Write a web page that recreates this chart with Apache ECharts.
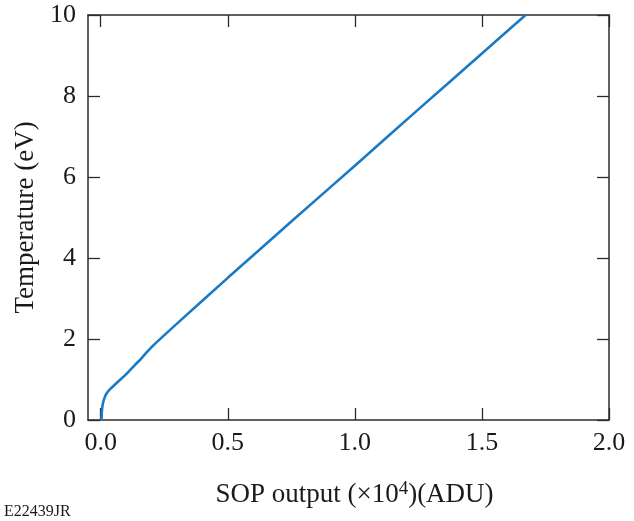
<!DOCTYPE html>
<html>
<head>
<meta charset="utf-8">
<script src="https://cdn.jsdelivr.net/npm/echarts@6/dist/echarts.min.js"></script>
<style>
	html, body { margin: 0; padding: 0; background: #fff; }
	#chart { width: 634px; height: 521px; }
</style>
</head>
<body>
<div id="chart"></div>
<script>
	// SOP output (x10^4 ADU) vs temperature (eV)
	var sopOutput = [0.003, 0.005, 0.009, 0.017, 0.027, 0.037, 0.05, 0.069, 0.09, 0.109, 0.135, 0.161, 0.2, 0.3, 0.5, 0.75, 1.0, 1.25, 1.5, 1.672];
	var temperature = [0.0, 0.25, 0.42, 0.58, 0.69, 0.76, 0.84, 0.95, 1.07, 1.19, 1.36, 1.53, 1.8, 2.38, 3.51, 4.9, 6.28, 7.67, 9.05, 10.0];
	var xTicks = [0.0, 0.5, 1.0, 1.5, 2.0];
	var yTicks = [0, 2, 4, 6, 8, 10];

	var points = sopOutput.map(function(x, i) {
		return [x, temperature[i]];
	});

	var myChart = echarts.init(document.getElementById('chart'));
	var serif = 'Liberation Serif';
	var axisColor = '#2b2b2b';
	var textColor = '#1a1a1a';

	var frameLine = { show: true, onZero: false, lineStyle: { color: axisColor, width: 1.5 } };
	var tickStyle = {
		show: true,
		inside: true,
		length: 12,
		lineStyle: { color: axisColor, width: 1.3 }
	};

	var option = {
		animation: false,
		backgroundColor: '#fff',
		grid: { left: 88, right: 25, top: 15, bottom: 101, outerBoundsMode: 'none', containLabel: false },
		xAxis: [{
			type: 'value',
			min: -0.05,
			max: 2.0,
			name: '{a|SOP output (×10}{s|4}{a|)(ADU)}',
			nameLocation: 'middle',
			nameGap: 60,
			nameTextStyle: {
				padding: [0, 0, 0, 12],
				rich: {
					a: { fontFamily: serif, fontSize: 27, color: textColor },
					s: { fontFamily: serif, fontSize: 19, color: textColor, padding: [0, 0, 11, 0] }
				}
			},
			axisLine: frameLine,
			axisTick: Object.assign({ customValues: xTicks }, tickStyle),
			axisLabel: {
				customValues: xTicks,
				margin: 10,
				fontFamily: serif,
				fontSize: 26,
				color: textColor,
				formatter: function(v) { return v.toFixed(1); }
			},
			splitLine: { show: false }
		}, {
			type: 'value',
			position: 'top',
			min: -0.05,
			max: 2.0,
			axisLine: frameLine,
			axisTick: Object.assign({ customValues: xTicks }, tickStyle),
			axisLabel: { show: false },
			splitLine: { show: false }
		}],
		yAxis: [{
			type: 'value',
			min: 0,
			max: 10,
			interval: 2,
			name: 'Temperature (eV)',
			nameLocation: 'middle',
			nameGap: 46,
			nameTextStyle: { fontFamily: serif, fontSize: 27, color: textColor },
			axisLine: frameLine,
			axisTick: tickStyle,
			axisLabel: { margin: 12, fontFamily: serif, fontSize: 26, color: textColor },
			splitLine: { show: false }
		}, {
			type: 'value',
			position: 'right',
			min: 0,
			max: 10,
			interval: 2,
			axisLine: frameLine,
			axisTick: tickStyle,
			axisLabel: { show: false },
			splitLine: { show: false }
		}],
		graphic: [{
			type: 'text',
			left: 4,
			top: 504,
			style: { text: 'E22439JR', font: '16px "Liberation Serif"', fill: textColor }
		}],
		series: [{
			type: 'line',
			xAxisIndex: 0,
			yAxisIndex: 0,
			data: points,
			smooth: 0.3,
			showSymbol: false,
			lineStyle: { color: '#1a7ac4', width: 2.6 }
		}]
	};

	myChart.setOption(option);
</script>
</body>
</html>
